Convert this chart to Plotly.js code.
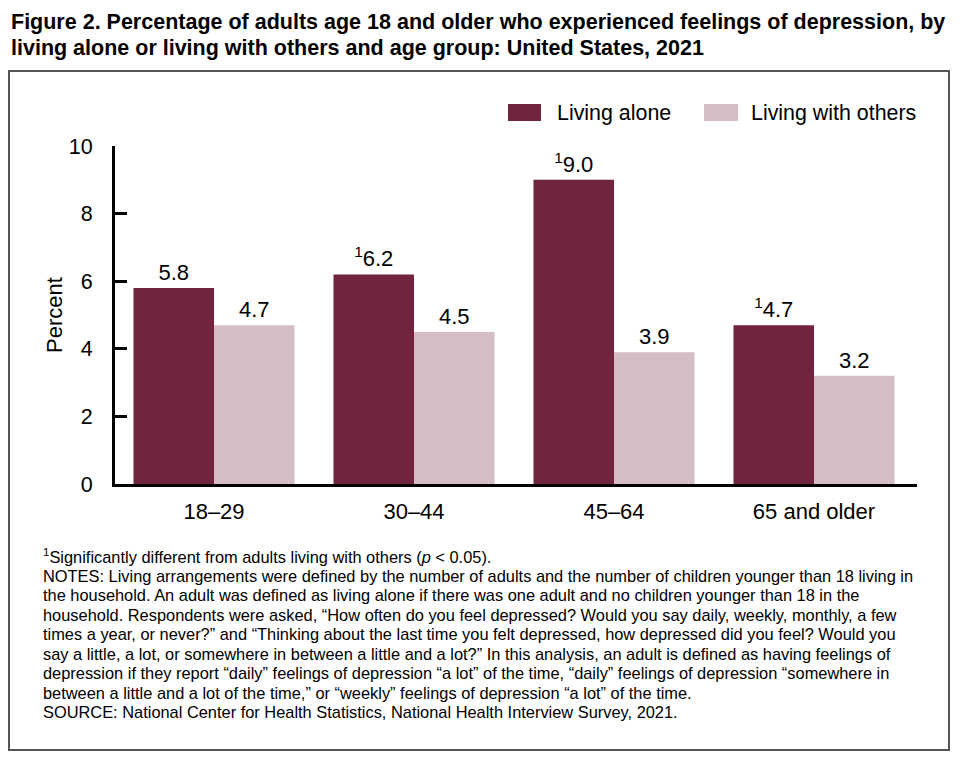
<!DOCTYPE html>
<html>
<head>
<meta charset="utf-8">
<script src="https://cdn.plot.ly/plotly-3.0.1.min.js"></script>
<style>html,body{margin:0;padding:0;background:#fff;}#chart{width:962px;height:763px;}</style>
</head>
<body>
<div id="chart"></div>
<script>
// ---- data ----
const categories = ["18\u201329", "30\u201344", "45\u201364", "65 and older"];
const seriesNames = ["Living alone", "Living with others"];
const livingAlone = [5.8, 6.2, 9.0, 4.7];
const livingWithOthers = [4.7, 4.5, 3.9, 3.2];
const aloneSignificant = [false, true, true, true];
const titleLines = [
  "Figure 2. Percentage of adults age 18 and older who experienced feelings of depression, by",
  "living alone or living with others and age group: United States, 2021"
];
const noteLines = [
  "<sup>1</sup>Significantly different from adults living with others (<i>p</i> &lt; 0.05).",
  "NOTES: Living arrangements were defined by the number of adults and the number of children younger than 18 living in",
  "the household. An adult was defined as living alone if there was one adult and no children younger than 18 in the",
  "household. Respondents were asked, \u201cHow often do you feel depressed? Would you say daily, weekly, monthly, a few",
  "times a year, or never?\u201d and \u201cThinking about the last time you felt depressed, how depressed did you feel? Would you",
  "say a little, a lot, or somewhere in between a little and a lot?\u201d In this analysis, an adult is defined as having feelings of",
  "depression if they report \u201cdaily\u201d feelings of depression \u201ca lot\u201d of the time, \u201cdaily\u201d feelings of depression \u201csomewhere in",
  "between a little and a lot of the time,\u201d or \u201cweekly\u201d feelings of depression \u201ca lot\u201d of the time.",
  "SOURCE: National Center for Health Statistics, National Health Interview Survey, 2021."
];
const colors = ["#72233D", "#D5BDC6"];

// ---- layout geometry (pixels) ----
const W = 962, H = 763;
const L = 115, R = 917, T = 146, B = 484;
const px = x => (x - L) / (R - L);
const py = y => (B - y) / (B - T);
const FONT = "Liberation Sans, Arial, Helvetica, sans-serif";

const aloneText = livingAlone.map((v, i) => (aloneSignificant[i] ? "<sup>1</sup>" : "") + v.toFixed(1));
const othersText = livingWithOthers.map(v => v.toFixed(1));

const traces = [
  {type: "bar", x: categories, y: livingAlone, name: seriesNames[0], marker: {color: colors[0], line: {width: 0}},
   text: aloneText, textposition: "outside", cliponaxis: false, textfont: {size: 22, color: "#000", family: FONT}, hoverinfo: "skip"},
  {type: "bar", x: categories, y: livingWithOthers, name: seriesNames[1], marker: {color: colors[1], line: {width: 0}},
   text: othersText, textposition: "outside", cliponaxis: false, textfont: {size: 22, color: "#000", family: FONT}, hoverinfo: "skip"}
];

const annotations = [];
// title lines
const titleY = [22, 48];
titleLines.forEach((t, i) => {
  annotations.push({xref: "paper", yref: "paper", x: px(9), y: py(titleY[i]), xanchor: "left", yanchor: "middle",
    text: "<b>" + t + "</b>", showarrow: false, align: "left", font: {size: 21.5, color: "#000", family: FONT}});
});
// notes
const noteY0 = 556, noteDy = 19.5;
noteLines.forEach((t, i) => {
  annotations.push({xref: "paper", yref: "paper", x: px(41), y: py(noteY0 + i * noteDy), xanchor: "left", yanchor: "middle",
    text: t, showarrow: false, align: "left", font: {size: 16.4, color: "#000", family: FONT}});
});
// legend texts
const legendPos = [{sx0: 508, sx1: 541, tx: 555}, {sx0: 704, sx1: 738, tx: 749}];
legendPos.forEach((p, i) => {
  annotations.push({xref: "paper", yref: "paper", x: px(p.tx), y: py(113), xanchor: "left", yanchor: "middle",
    text: seriesNames[i], showarrow: false, font: {size: 21.4, color: "#000", family: FONT}});
});

const shapes = [
  {type: "rect", xref: "paper", yref: "paper", x0: px(9), x1: px(949), y0: py(71), y1: py(750),
   line: {color: "#555", width: 2}, fillcolor: "rgba(0,0,0,0)", layer: "below"}
];
legendPos.forEach((p, i) => {
  shapes.push({type: "rect", xref: "paper", yref: "paper", x0: px(p.sx0), x1: px(p.sx1), y0: py(121), y1: py(104),
    line: {width: 0}, fillcolor: colors[i]});
});

const layout = {
  width: W, height: H,
  margin: {l: L, r: W - R, t: T, b: H - B, pad: 0},
  paper_bgcolor: "#fff", plot_bgcolor: "#fff",
  font: {family: FONT, color: "#000"},
  showlegend: false,
  barmode: "group", bargap: 0.195, bargroupgap: 0,
  xaxis: {type: "category", range: [-0.495, 3.515], showline: true, linecolor: "#000", linewidth: 3,
          ticks: "", showgrid: false, zeroline: false, tickfont: {size: 22, color: "#000"},
          ticklabelstandoff: 6, fixedrange: true},
  yaxis: {range: [0, 10], tickvals: [0, 2, 4, 6, 8, 10], ticks: "inside", ticklen: 12, tickwidth: 3, tickcolor: "#000",
          showline: true, linecolor: "#000", linewidth: 3, showgrid: false, zeroline: false,
          tickfont: {size: 21.5, color: "#000"}, ticklabelstandoff: 15,
          title: {text: "Percent", font: {size: 22, color: "#000"}, standoff: 1}, fixedrange: true},
  annotations: annotations,
  shapes: shapes
};

Plotly.newPlot("chart", traces, layout, {displayModeBar: false, staticPlot: true});
</script>
</body>
</html>
